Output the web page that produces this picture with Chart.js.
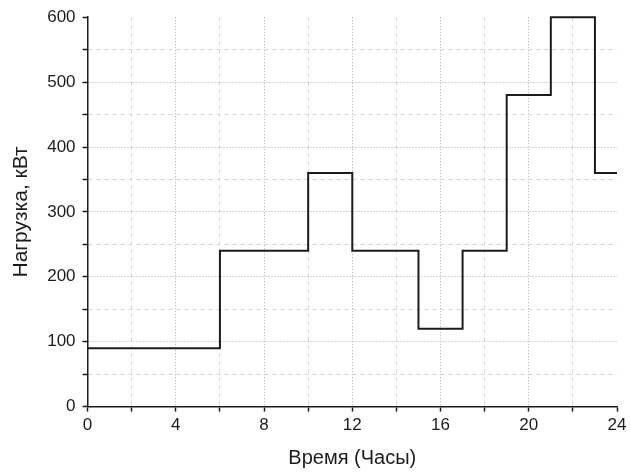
<!DOCTYPE html>
<html>
<head>
<meta charset="utf-8">
<script src="https://cdn.jsdelivr.net/npm/chart.js@4.4.1/dist/chart.umd.min.js"></script>
<style>
  body { margin: 0; background: #fff; }
  #wrap { width: 631px; height: 474px; }
</style>
</head>
<body>
<div id="wrap"><canvas id="chart" width="631" height="474"></canvas></div>
<script>
// hour where each load level starts, and load in kW from that hour on
const hours = [0, 6, 10, 12, 15, 17, 19, 21, 23, 24];
const loadKw = [90, 240, 360, 240, 120, 240, 480, 600, 360, 360];

const xMin = 0, xMax = 24, xMinorStep = 2, xLabelStep = 4;
const yMin = 0, yMax = 600, yMinorStep = 50, yLabelStep = 100;

const ink = '#1c1c1c';
const family = 'Liberation Sans, Arial, sans-serif';
const tickFont = { family: family, size: 17 };

function gridColor(major, edge) {
    return function (c) {
        if (!c.tick) return 'rgba(0,0,0,0)';
        let v = c.tick.value;
        if (v === edge) return 'rgba(0,0,0,0)';
        return v % major === 0 ? '#b0b0b0' : '#d6d6d6';
    };
}
function gridDash(major) {
    return function (c) {
        if (!c.tick) return [];
        return c.tick.value % major === 0 ? [1, 2] : [4, 4];
    };
}

let ctx = document.getElementById('chart').getContext('2d');
let chart = new Chart(ctx, {
    type: 'line',
    data: {
        datasets: [{
            label: 'Нагрузка',
            data: hours.map((h, i) => ({ x: h, y: loadKw[i] })),
            stepped: 'before',
            borderColor: ink,
            borderWidth: 2,
            pointRadius: 0,
            fill: false,
            clip: false
        }]
    },
    options: {
        responsive: false,
        animation: false,
        layout: { padding: { left: 5, top: 17, right: 14, bottom: 2 } },
        plugins: { legend: { display: false }, tooltip: { enabled: false } },
        scales: {
            x: {
                type: 'linear',
                min: xMin,
                max: xMax,
                ticks: {
                    stepSize: xMinorStep,
                    autoSkip: false,
                    maxRotation: 0,
                    color: ink,
                    font: tickFont,
                    padding: 4,
                    callback: v => v % xLabelStep === 0 ? v : ''
                },
                grid: {
                    color: gridColor(xLabelStep, xMax),
                    lineWidth: 1,
                    drawTicks: true,
                    tickLength: 5,
                    tickColor: ink,
                    tickWidth: 1.5,
                    tickBorderDash: []
                },
                border: { color: ink, width: 1.5, dash: gridDash(xLabelStep) },
                title: {
                    display: true,
                    text: 'Время (Часы)',
                    color: ink,
                    font: { family: family, size: 20 },
                    padding: { top: 6, bottom: 2 }
                }
            },
            y: {
                min: yMin,
                max: yMax,
                ticks: {
                    stepSize: yMinorStep,
                    autoSkip: false,
                    color: ink,
                    font: tickFont,
                    padding: 7,
                    callback: v => v % yLabelStep === 0 ? v : ''
                },
                grid: {
                    color: gridColor(yLabelStep, yMax),
                    lineWidth: 1,
                    drawTicks: true,
                    tickLength: 5,
                    tickColor: ink,
                    tickWidth: 1.5,
                    tickBorderDash: []
                },
                border: { color: ink, width: 1.5, dash: gridDash(yLabelStep) },
                title: {
                    display: true,
                    text: 'Нагрузка, кВт',
                    color: ink,
                    font: { family: family, size: 21 },
                    padding: { top: 4, bottom: 6 }
                }
            }
        }
    }
});
</script>
</body>
</html>
